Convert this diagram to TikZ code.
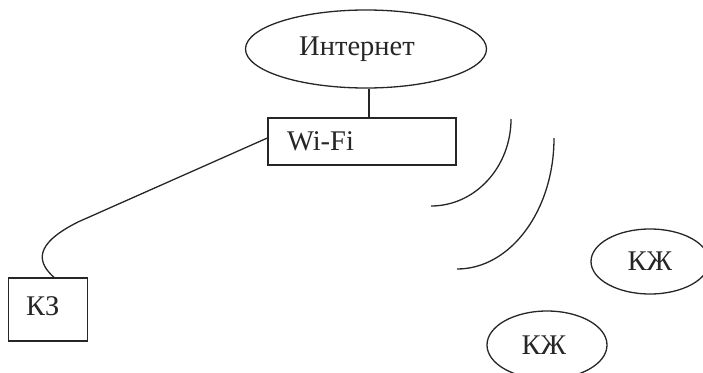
\documentclass[tikz,border=0pt]{standalone}
\usepackage{fontspec}
\setmainfont{Liberation Serif}
\usetikzlibrary{shapes.geometric}
\begin{document}
\begin{tikzpicture}[x=1pt,y=-1pt,
  every node/.style={font=\fontsize{28.5}{30}\selectfont, text=black!85},
  ln/.style={line width=1.3pt, draw=black!85},
  oval/.style={ellipse, ln, inner sep=0pt},
  box/.style={rectangle, ln, inner ysep=0pt, align=left}]
\useasboundingbox (0,0) rectangle (703,372);
\clip (0,0) rectangle (703,372);
\node[oval, minimum width=241pt, minimum height=78pt] (inet) at (366,49) {Интернет\hspace*{18pt}};
\node[box, minimum height=47pt, text width=150pt, inner xsep=19pt] (wifi) at (362,141.5) {\raisebox{-3pt}{Wi-Fi}};
\node[box, minimum height=63pt, text width=44pt, inner xsep=17.5pt] (kz) at (48,309.5) {\raisebox{6pt}{КЗ}};
\node[oval, minimum width=118pt, minimum height=65pt] (kzh1) at (650,261.5) {\raisebox{-3pt}{КЖ}};
\node[oval, minimum width=120pt, minimum height=68pt] (kzh2) at (547,345) {КЖ\hspace*{6pt}};
\draw[ln] (inet.south -| 369,0) -- (wifi.north -| 369,0);
\draw[ln] ([yshift=3.5pt]wifi.west) -- (78,222) .. controls (32,245) and (38,263) .. ([xshift=6pt]kz.north);
\coordinate (a1s) at (511,119);
\coordinate (a1e) at (431,206);
\coordinate (a2s) at (554,138);
\coordinate (a2e) at (457,269);
\draw[ln] (a1s) .. controls (511,167) and (475.2,206) .. (a1e);
\draw[ln] (a2s) .. controls (554,210.3) and (510.6,269) .. (a2e);
\end{tikzpicture}
\end{document}
